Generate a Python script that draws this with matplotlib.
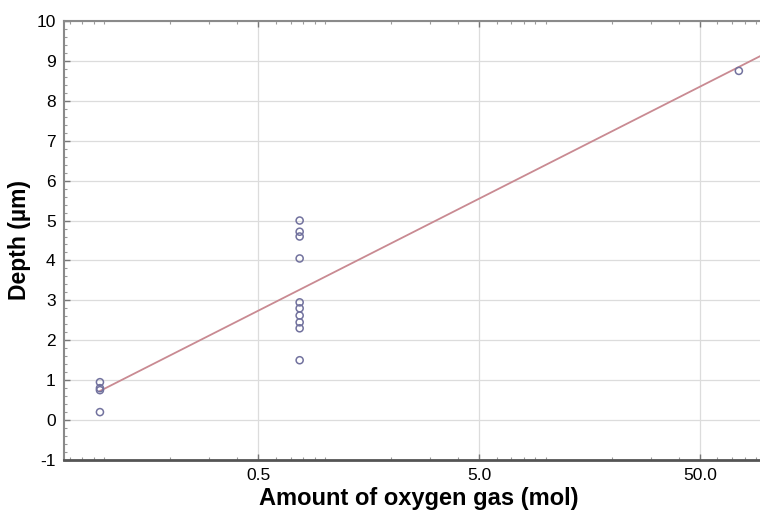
import numpy as np
import matplotlib
matplotlib.use("Agg")
import matplotlib.pyplot as plt
from matplotlib.ticker import FixedLocator, NullFormatter, MultipleLocator

# data
oxygen_mol = [0.096, 0.096, 0.096, 0.096,
              0.77, 0.77, 0.77, 0.77, 0.77, 0.77, 0.77, 0.77, 0.77, 0.77,
              75.0]
depth_um = [0.95, 0.8, 0.75, 0.2,
            5.0, 4.72, 4.6, 4.05, 2.95, 2.8, 2.62, 2.45, 2.3, 1.5,
            8.75]
x_ticks = [0.5, 5.0, 50.0]
x_ticklabels = ["0.5", "5.0", "50.0"]
y_ticks = list(range(-1, 11))

plt.rcParams["font.family"] = ["Liberation Sans", "DejaVu Sans"]
plt.rcParams["axes.unicode_minus"] = False

fig = plt.figure(figsize=(7.6, 5.16), dpi=100)
ax = fig.add_axes([64 / 760, 56 / 516, 1 - 64 / 760, (460 - 21) / 516])

x = np.array(oxygen_mol)
y = np.array(depth_um)

# linear fit of depth vs log10(amount)
b, a = np.polyfit(np.log10(x), y, 1)
xlim = (0.066, 93.5)
xf = np.logspace(np.log10(x.min()), np.log10(xlim[1]), 100)
ax.plot(xf, a + b * np.log10(xf), color="#c98a92", lw=1.3, zorder=2)

ax.scatter(x, y, s=26, facecolors="none", edgecolors="#72729e",
           linewidths=1.1, zorder=3)

ax.set_xscale("log")
ax.set_xlim(*xlim)
ax.set_ylim(-1, 10)
ax.xaxis.set_major_locator(FixedLocator(x_ticks))
ax.set_xticklabels(x_ticklabels)
ax.xaxis.set_minor_locator(FixedLocator(
    [m * 10.0 ** e for e in range(-2, 3) for m in (1, 2, 3, 4, 6, 7, 8, 9)]))
ax.xaxis.set_minor_formatter(NullFormatter())
ax.yaxis.set_major_locator(FixedLocator(y_ticks))
ax.yaxis.set_minor_locator(MultipleLocator(0.2))

ax.grid(True, which="major", color="#dcdcdc", lw=0.9)
ax.tick_params(which="both", direction="in", top=True, right=False,
               labelsize=12.5, colors="#000000", pad=6)
ax.tick_params(which="major", length=4, width=1, color="#777777")
ax.tick_params(which="minor", length=2.5, width=0.8, color="#999999")

for side in ["top", "left"]:
    ax.spines[side].set_color("#8a8a8a")
    ax.spines[side].set_linewidth(1.5)
ax.spines["bottom"].set_color("#555555")
ax.spines["bottom"].set_linewidth(2)
ax.spines["right"].set_visible(False)

ax.set_xlabel("Amount of oxygen gas (mol)", fontsize=17, fontweight="bold")
ax.xaxis.set_label_coords(0.509, -0.062)
ax.set_ylabel("Depth (µm)", fontsize=16.5, fontweight="bold", labelpad=4)

fig.savefig("out.png", dpi=100)
